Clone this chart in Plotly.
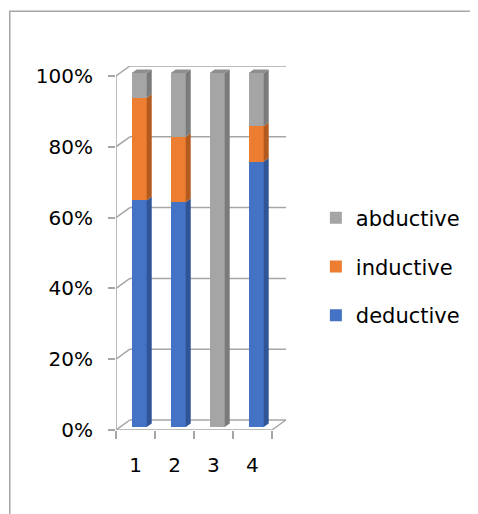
import plotly.graph_objects as go

# ---------------- data ----------------
categories = ["1", "2", "3", "4"]
deductive = [64, 63.5, 0, 75]
inductive = [29, 18.5, 0, 10]
abductive = [7, 18, 100, 15]
y_ticks = [0, 20, 40, 60, 80, 100]
y_tick_labels = ["0%", "20%", "40%", "60%", "80%", "100%"]

series = [
    ("deductive", deductive, "#4472C4", "#2F5597"),
    ("inductive", inductive, "#ED7D31", "#B35A1F"),
    ("abductive", abductive, "#A5A5A5", "#7B7B7B"),
]
TOP_COLOR = "#8E8E8E"
GRID = "#A6A6A6"
FONT = "DejaVu Sans"

# ---------------- geometry (screen pixels, page has 8px body margin) ----------------
OFF = 8
W, H = 478, 514
L, R, T, B = 116 - OFF, 285.6 - OFF, 65.7 - OFF, 430 - OFF
PXU = 38.9                      # px per category unit
XMIN = 0.5
XMAX = XMIN + (R - L) / PXU
PYU = (B - (75.7 - OFF)) / 100  # px per percent
YMAX = (B - T) / PYU
DX, DY = 13.8 / PXU, 10 / PYU   # wall depth
BSX, BSY = 3.7 / PXU, 3 / PYU   # bar offset into depth
BDX, BDY = 5 / PXU, 3.6 / PYU   # bar depth
BW = 15 / PXU

xnum = list(range(1, len(categories) + 1))

fig = go.Figure()
for k, (name, vals, col, _) in enumerate(series):
    fig.add_trace(go.Bar(
        x=xnum, y=vals, name=name, width=BW,
        marker=dict(color=col, line=dict(width=0)),
        xaxis="x2", yaxis="y2", legendgroup=name,
        legendrank=1000 - k,
    ))

shapes = []
for v in y_ticks:
    shapes.append(dict(type="line", xref="x", yref="y", x0=XMIN, y0=v, x1=XMIN + DX, y1=v + DY,
                       line=dict(color=GRID, width=1.5), layer="below"))
    shapes.append(dict(type="line", xref="x", yref="y", x0=XMIN + DX, y0=v + DY, x1=XMAX, y1=v + DY,
                       line=dict(color=GRID, width=1.5), layer="below"))
xend = len(categories) + 0.5
shapes.append(dict(type="line", xref="x", yref="y", x0=XMIN, y0=0, x1=xend, y1=0,
                   line=dict(color=GRID, width=1.5), layer="below"))
shapes.append(dict(type="line", xref="x", yref="y", x0=xend, y0=0, x1=xend + DX, y1=DY,
                   line=dict(color=GRID, width=1.5), layer="below"))
shapes.append(dict(type="line", xref="x", yref="y", x0=XMIN, y0=0, x1=XMIN, y1=y_ticks[-1],
                   line=dict(color=GRID, width=1.5), layer="below"))

for i, xc in enumerate(xnum):
    xr = xc + BW / 2
    xl = xc - BW / 2
    base = 0
    top = 0
    for name, vals, col, side in series:
        v = vals[i]
        if v <= 0:
            continue
        y0, y1 = base, base + v
        path = f"M{xr},{y0} L{xr},{y1} L{xr + BDX},{y1 + BDY} L{xr + BDX},{y0 + BDY} Z"
        shapes.append(dict(type="path", xref="x2", yref="y2", path=path,
                           fillcolor=side, line=dict(width=0)))
        base = y1
        top = y1
    path = f"M{xl},{top} L{xr},{top} L{xr + BDX},{top + BDY} L{xl + BDX},{top + BDY} Z"
    shapes.append(dict(type="path", xref="x2", yref="y2", path=path,
                       fillcolor=TOP_COLOR, line=dict(width=0)))

# outer border (top + left visible)
shapes.append(dict(type="rect", xref="paper", yref="paper",
                   x0=(10 - OFF - L) / (R - L), x1=(W + 20 - L) / (R - L),
                   y0=(B - (H + 20)) / (B - T), y1=(B - (11 - OFF)) / (B - T),
                   line=dict(color="#A6A6A6", width=1.5), layer="below"))

fig.update_layout(
    width=W, height=H,
    margin=dict(l=L, r=W - R, t=T, b=H - B, pad=0),
    paper_bgcolor="white", plot_bgcolor="rgba(0,0,0,0)",
    barmode="stack",
    font=dict(family=FONT, size=20, color="#000000"),
    shapes=shapes,
    xaxis=dict(range=[XMIN, XMAX], tickvals=xnum, ticktext=categories, ticks="",
               showgrid=False, zeroline=False, showline=False, ticklabelstandoff=21,
               minor=dict(tickvals=[k + 0.5 for k in range(len(categories) + 1)],
                          ticks="outside", ticklen=8, tickcolor=GRID, tickwidth=1.5, showgrid=False),
               fixedrange=True),
    yaxis=dict(range=[0, YMAX], tickvals=y_ticks, ticktext=y_tick_labels, ticks="outside",
               ticklen=7, tickcolor=GRID, tickwidth=1.5, showgrid=False, zeroline=False,
               showline=False, ticklabelstandoff=11, fixedrange=True),
    xaxis2=dict(range=[XMIN - BSX, XMAX - BSX], overlaying="x", visible=False, fixedrange=True),
    yaxis2=dict(range=[-BSY, YMAX - BSY], overlaying="y", visible=False, fixedrange=True),
    legend=dict(x=(315.4 - OFF - L) / (R - L), xanchor="left",
                y=(B - (197.3 - OFF)) / (B - T), yanchor="top",
                traceorder="grouped", tracegroupgap=18.5,
                font=dict(family=FONT, size=21), bgcolor="rgba(0,0,0,0)"),
    showlegend=True,
)

fig.write_html("out.html")
